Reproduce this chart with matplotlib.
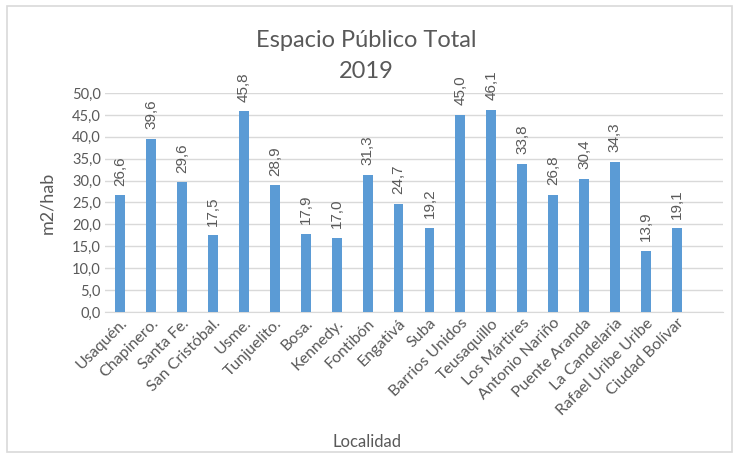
import matplotlib.pyplot as plt
import numpy as np
from matplotlib.patches import Rectangle

localidades = ['Usaquén.', 'Chapinero.', 'Santa Fe.', 'San Cristóbal.', 'Usme.',
               'Tunjuelito.', 'Bosa.', 'Kennedy.', 'Fontibón', 'Engativá', 'Suba',
               'Barrios Unidos', 'Teusaquillo', 'Los Mártires', 'Antonio Nariño',
               'Puente Aranda', 'La Candelaria', 'Rafael Uribe Uribe', 'Ciudad Bolívar']
valores = [26.6, 39.6, 29.6, 17.5, 45.8, 28.9, 17.9, 17.0, 31.3, 24.7, 19.2,
           45.0, 46.1, 33.8, 26.8, 30.4, 34.3, 13.9, 19.1]
yticks = np.arange(0, 50.1, 5)

gris = '#595959'
azul = '#5B9BD5'
plt.rcParams['font.family'] = ['Lato', 'DejaVu Sans']

fig = plt.figure(figsize=(7.33, 4.57), dpi=100)
fig.patches.append(Rectangle((0.009, 0.011), 0.99, 0.975, transform=fig.transFigure,
                             fill=False, edgecolor='#D9D9D9', linewidth=1.2))
ax = fig.add_axes([0.1432, 0.3173, 0.8432, 0.4792])

x = np.arange(len(localidades))
ax.bar(x, valores, width=0.32, color=azul, zorder=3)
for xi, v in zip(x, valores):
    ax.annotate(f'{v:.1f}'.replace('.', ','), (xi, v), xytext=(0, 7),
                textcoords='offset points', rotation=90, ha='center', va='bottom',
                fontsize=11, color=gris, family='Liberation Sans')

ax.set_xlim(-0.5, len(localidades) + 0.5)
ax.set_ylim(0, 50)
ax.set_yticks(yticks)
ax.set_yticklabels([f'{t:.1f}'.replace('.', ',') for t in yticks], fontsize=10.5, color=gris)
ax.set_xticks(x)
ax.set_xticklabels(localidades, rotation=45, ha='right', rotation_mode='anchor',
                   fontsize=11.5, color=gris)
ax.tick_params(length=0, pad=3)
ax.grid(axis='y', color='#D9D9D9', linewidth=1, zorder=0)
for s in ['top', 'right', 'left']:
    ax.spines[s].set_visible(False)
ax.spines['bottom'].set_color('#D9D9D9')

ax.set_ylabel('m2/hab', fontsize=13, color=gris, labelpad=12)
fig.text(0.5, 0.022, 'Localidad', ha='center', fontsize=12, color=gris)
fig.text(0.5, 0.912, 'Espacio Público Total', ha='center', va='center', fontsize=17, color=gris)
fig.text(0.5, 0.843, '2019', ha='center', va='center', fontsize=17, color=gris)

fig.savefig('out.png', dpi=100)
